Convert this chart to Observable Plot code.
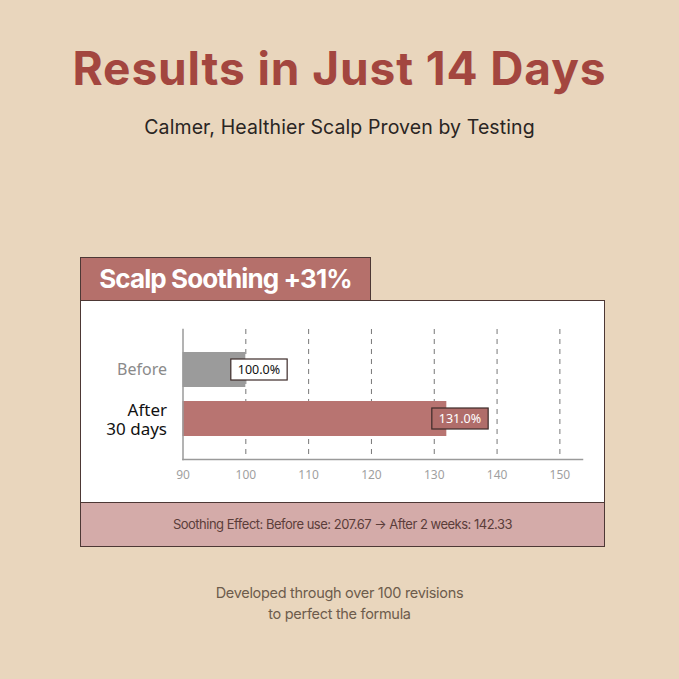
<!DOCTYPE html>
<html>
<head>
<meta charset="utf-8">
<script src="https://cdn.jsdelivr.net/npm/d3@7"></script>
<script src="https://cdn.jsdelivr.net/npm/@observablehq/plot@0.6"></script>
<style>
  html, body { margin: 0; padding: 0; background: #e9d6bd; }
  #page { position: relative; width: 679px; height: 679px; background: #e9d6bd; overflow: hidden; font-family: Inter, "Noto Sans", sans-serif; }
  .abs { position: absolute; }
  #title { left: 0; width: 679px; top: 45px; text-align: center; font-size: 46px; font-weight: 700; color: #a3463f; letter-spacing: 0.9px; line-height: 1; }
  #subtitle { left: 0; width: 679px; top: 115px; text-align: center; font-size: 19.5px; color: #2a2523; letter-spacing: 0.1px; }
  #header { left: 80px; top: 257px; width: 289px; height: 42px; background: #b5706b; border: 1.5px solid #4d3835; border-bottom: none; color: #fff; font-weight: 700; font-size: 26px; letter-spacing: -0.9px; text-align: center; line-height: 42px; }
  #panel { left: 80px; top: 300px; width: 523px; height: 201px; background: #fff; border: 1.5px solid #4d3835; border-bottom: none; }
  #footer { left: 80px; top: 502px; width: 523px; height: 43px; background: #d4aba9; border: 1.5px solid #4d3835; color: #5b3d3a; font-size: 13px; letter-spacing: -0.5px; text-align: center; line-height: 43px; }
  #chart { left: 80px; top: 300px; }
  #note { left: 0; width: 679px; top: 582px; text-align: center; font-size: 14.5px; color: #6d5c4c; line-height: 21px; letter-spacing: -0.3px; }
</style>
</head>
<body>
<div id="page">
  <div id="title" class="abs">Results in Just 14 Days</div>
  <div id="subtitle" class="abs">Calmer, Healthier Scalp Proven by Testing</div>
  <div id="header" class="abs">Scalp Soothing +31%</div>
  <div id="panel" class="abs"></div>
  <div id="footer" class="abs">Soothing Effect: Before use: 207.67 → After 2 weeks: 142.33</div>
  <div id="chart" class="abs"></div>
  <div id="note" class="abs">Developed through over 100 revisions<br>to perfect the formula</div>
</div>
<script>
const categories = ["Before", "After\n30 days"];
const values = [100, 132];
const valueLabels = ["100.0%", "131.0%"];
const barColors = ["#9b9b9b", "#b87471"];
const categoryColors = ["#8a8a8a", "#111111"];
const categorySizes = [16, 17];
const labelBoxFill = ["#ffffff", "#b06d6a"];
const labelTextFill = ["#111111", "#ffffff"];
const xTicks = [90, 100, 110, 120, 130, 140, 150];
const xDomain = [90, 153.6];

const data = categories.map((c, i) => ({
  category: c, value: values[i], label: valueLabels[i],
  bar: barColors[i], catColor: categoryColors[i], tfill: labelTextFill[i]
}));

const chart = Plot.plot({
  width: 525,
  height: 202,
  marginLeft: 102.5,
  marginRight: 23,
  marginTop: 29,
  marginBottom: 43,
  style: { background: "transparent", fontFamily: "'Noto Sans', sans-serif" },
  x: { domain: xDomain, ticks: xTicks },
  y: { domain: categories, paddingInner: 0.28, paddingOuter: 0.45, axis: null },
  marks: [
    Plot.ruleX(xTicks.filter(t => t > 90), { stroke: "#777", strokeDasharray: "5,5", strokeWidth: 1 }),
    Plot.barX(data, { y: "category", x1: 90, x2: "value", fill: "bar" }),
    Plot.frame({ anchor: "left", stroke: "#9a9a9a", strokeWidth: 1.5 }),
    Plot.frame({ anchor: "bottom", stroke: "#9a9a9a", strokeWidth: 1.5 }),
    Plot.axisX({ ticks: xTicks, tickSize: 0, tickPadding: 11, fontSize: 12, fill: "#9f9f9f", label: null, tickFormat: d => String(d) }),
    Plot.text(data.slice(0, 1), { y: "category", x: 90, text: "category", textAnchor: "end", dx: -16, fill: "catColor", fontSize: categorySizes[0] }),
    Plot.text(data.slice(1), { y: "category", x: 90, text: "category", textAnchor: "end", dx: -16, fill: "catColor", fontSize: categorySizes[1], lineHeight: 1.12 }),
    Plot.text(data, { y: "category", x: "value", text: "label", textAnchor: "start", dx: -8, fill: "tfill", fontSize: 12.5 })
  ]
});
document.getElementById("chart").appendChild(chart);

// label boxes behind value labels
d3.select(chart).selectAll("text")
  .filter(function () { return valueLabels.includes(this.textContent); })
  .each(function () {
    const i = valueLabels.indexOf(this.textContent);
    const bb = this.getBBox();
    const r = d3.select(this.parentNode).insert("rect", () => this)
      .attr("x", bb.x - 7).attr("y", bb.y - 2)
      .attr("width", bb.width + 14).attr("height", bb.height + 4)
      .attr("fill", labelBoxFill[i]).attr("stroke", "#3d2b29").attr("stroke-width", 1.2);
    const t = this.getAttribute("transform");
    if (t) r.attr("transform", t);
  });
</script>
</body>
</html>
